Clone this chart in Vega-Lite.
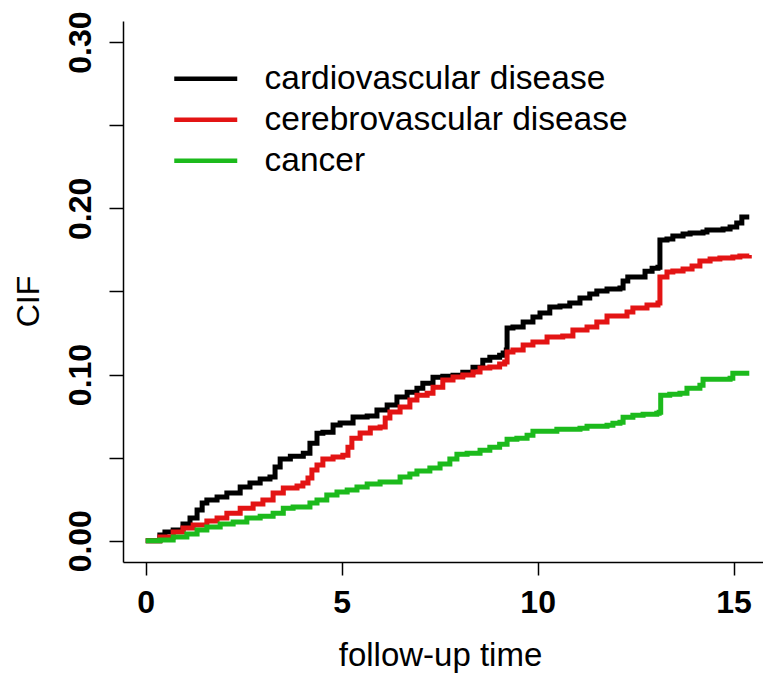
{
  "$schema": "https://vega.github.io/schema/vega-lite/v6.json",
  "autosize": {"type": "none"},
  "width": 640,
  "height": 541,
  "padding": {"left": 123, "top": 21, "right": 0, "bottom": 124},
  "background": "white",
  "config": {"font": "Liberation Sans", "view": {"stroke": null}},
  "datasets": {
    "cif": [
      {"cause": "cardiovascular disease", "t": 0, "cif": 0},
      {"cause": "cardiovascular disease", "t": 0.36, "cif": 0.0034},
      {"cause": "cardiovascular disease", "t": 0.49, "cif": 0.0052},
      {"cause": "cardiovascular disease", "t": 0.70, "cif": 0.0064},
      {"cause": "cardiovascular disease", "t": 0.95, "cif": 0.010},
      {"cause": "cardiovascular disease", "t": 1.13, "cif": 0.0137},
      {"cause": "cardiovascular disease", "t": 1.31, "cif": 0.0185},
      {"cause": "cardiovascular disease", "t": 1.44, "cif": 0.0227},
      {"cause": "cardiovascular disease", "t": 1.56, "cif": 0.0245},
      {"cause": "cardiovascular disease", "t": 1.82, "cif": 0.0263},
      {"cause": "cardiovascular disease", "t": 2.07, "cif": 0.0287},
      {"cause": "cardiovascular disease", "t": 2.41, "cif": 0.0323},
      {"cause": "cardiovascular disease", "t": 2.66, "cif": 0.0347},
      {"cause": "cardiovascular disease", "t": 2.92, "cif": 0.0371},
      {"cause": "cardiovascular disease", "t": 3.17, "cif": 0.0383},
      {"cause": "cardiovascular disease", "t": 3.30, "cif": 0.0443},
      {"cause": "cardiovascular disease", "t": 3.43, "cif": 0.0491},
      {"cause": "cardiovascular disease", "t": 3.69, "cif": 0.0509},
      {"cause": "cardiovascular disease", "t": 4.02, "cif": 0.0527},
      {"cause": "cardiovascular disease", "t": 4.19, "cif": 0.0587},
      {"cause": "cardiovascular disease", "t": 4.37, "cif": 0.0647},
      {"cause": "cardiovascular disease", "t": 4.52, "cif": 0.0653},
      {"cause": "cardiovascular disease", "t": 4.78, "cif": 0.0696},
      {"cause": "cardiovascular disease", "t": 4.96, "cif": 0.0708},
      {"cause": "cardiovascular disease", "t": 5.29, "cif": 0.0744},
      {"cause": "cardiovascular disease", "t": 5.65, "cif": 0.0750},
      {"cause": "cardiovascular disease", "t": 5.90, "cif": 0.0786},
      {"cause": "cardiovascular disease", "t": 6.16, "cif": 0.0816},
      {"cause": "cardiovascular disease", "t": 6.41, "cif": 0.0864},
      {"cause": "cardiovascular disease", "t": 6.67, "cif": 0.0894},
      {"cause": "cardiovascular disease", "t": 6.92, "cif": 0.0918},
      {"cause": "cardiovascular disease", "t": 7.07, "cif": 0.0948},
      {"cause": "cardiovascular disease", "t": 7.33, "cif": 0.0984},
      {"cause": "cardiovascular disease", "t": 7.58, "cif": 0.0990},
      {"cause": "cardiovascular disease", "t": 7.84, "cif": 0.0996},
      {"cause": "cardiovascular disease", "t": 8.09, "cif": 0.1014},
      {"cause": "cardiovascular disease", "t": 8.35, "cif": 0.1044},
      {"cause": "cardiovascular disease", "t": 8.60, "cif": 0.1086},
      {"cause": "cardiovascular disease", "t": 8.78, "cif": 0.1104},
      {"cause": "cardiovascular disease", "t": 9.03, "cif": 0.1116},
      {"cause": "cardiovascular disease", "t": 9.12, "cif": 0.1129},
      {"cause": "cardiovascular disease", "t": 9.20, "cif": 0.1147},
      {"cause": "cardiovascular disease", "t": 9.22, "cif": 0.1280},
      {"cause": "cardiovascular disease", "t": 9.37, "cif": 0.1286},
      {"cause": "cardiovascular disease", "t": 9.63, "cif": 0.1316},
      {"cause": "cardiovascular disease", "t": 9.88, "cif": 0.1346},
      {"cause": "cardiovascular disease", "t": 10.06, "cif": 0.1370},
      {"cause": "cardiovascular disease", "t": 10.31, "cif": 0.1406},
      {"cause": "cardiovascular disease", "t": 10.57, "cif": 0.1412},
      {"cause": "cardiovascular disease", "t": 10.82, "cif": 0.1430},
      {"cause": "cardiovascular disease", "t": 11.08, "cif": 0.1460},
      {"cause": "cardiovascular disease", "t": 11.33, "cif": 0.1484},
      {"cause": "cardiovascular disease", "t": 11.51, "cif": 0.1502},
      {"cause": "cardiovascular disease", "t": 11.77, "cif": 0.1514},
      {"cause": "cardiovascular disease", "t": 12.10, "cif": 0.1520},
      {"cause": "cardiovascular disease", "t": 12.18, "cif": 0.1562},
      {"cause": "cardiovascular disease", "t": 12.30, "cif": 0.1586},
      {"cause": "cardiovascular disease", "t": 12.74, "cif": 0.1622},
      {"cause": "cardiovascular disease", "t": 12.92, "cif": 0.1640},
      {"cause": "cardiovascular disease", "t": 13.07, "cif": 0.1646},
      {"cause": "cardiovascular disease", "t": 13.12, "cif": 0.1809},
      {"cause": "cardiovascular disease", "t": 13.30, "cif": 0.1815},
      {"cause": "cardiovascular disease", "t": 13.45, "cif": 0.1833},
      {"cause": "cardiovascular disease", "t": 13.71, "cif": 0.1845},
      {"cause": "cardiovascular disease", "t": 13.89, "cif": 0.1851},
      {"cause": "cardiovascular disease", "t": 14.22, "cif": 0.1857},
      {"cause": "cardiovascular disease", "t": 14.32, "cif": 0.1869},
      {"cause": "cardiovascular disease", "t": 14.73, "cif": 0.1875},
      {"cause": "cardiovascular disease", "t": 14.91, "cif": 0.1887},
      {"cause": "cardiovascular disease", "t": 15.08, "cif": 0.1911},
      {"cause": "cardiovascular disease", "t": 15.21, "cif": 0.1947},
      {"cause": "cardiovascular disease", "t": 15.40, "cif": 0.1947},

      {"cause": "cerebrovascular disease", "t": 0, "cif": 0},
      {"cause": "cerebrovascular disease", "t": 0.36, "cif": 0.0022},
      {"cause": "cerebrovascular disease", "t": 0.70, "cif": 0.0052},
      {"cause": "cerebrovascular disease", "t": 0.95, "cif": 0.0076},
      {"cause": "cerebrovascular disease", "t": 1.21, "cif": 0.0094},
      {"cause": "cerebrovascular disease", "t": 1.56, "cif": 0.0118},
      {"cause": "cerebrovascular disease", "t": 1.82, "cif": 0.0136},
      {"cause": "cerebrovascular disease", "t": 2.07, "cif": 0.0166},
      {"cause": "cerebrovascular disease", "t": 2.41, "cif": 0.0196},
      {"cause": "cerebrovascular disease", "t": 2.74, "cif": 0.0221},
      {"cause": "cerebrovascular disease", "t": 2.99, "cif": 0.0245},
      {"cause": "cerebrovascular disease", "t": 3.25, "cif": 0.0287},
      {"cause": "cerebrovascular disease", "t": 3.51, "cif": 0.0317},
      {"cause": "cerebrovascular disease", "t": 3.86, "cif": 0.0329},
      {"cause": "cerebrovascular disease", "t": 4.01, "cif": 0.0347},
      {"cause": "cerebrovascular disease", "t": 4.14, "cif": 0.0377},
      {"cause": "cerebrovascular disease", "t": 4.24, "cif": 0.0425},
      {"cause": "cerebrovascular disease", "t": 4.37, "cif": 0.0455},
      {"cause": "cerebrovascular disease", "t": 4.52, "cif": 0.0491},
      {"cause": "cerebrovascular disease", "t": 4.78, "cif": 0.0503},
      {"cause": "cerebrovascular disease", "t": 5.03, "cif": 0.0515},
      {"cause": "cerebrovascular disease", "t": 5.16, "cif": 0.0563},
      {"cause": "cerebrovascular disease", "t": 5.26, "cif": 0.0617},
      {"cause": "cerebrovascular disease", "t": 5.47, "cif": 0.0648},
      {"cause": "cerebrovascular disease", "t": 5.73, "cif": 0.0678},
      {"cause": "cerebrovascular disease", "t": 5.98, "cif": 0.0684},
      {"cause": "cerebrovascular disease", "t": 6.11, "cif": 0.0738},
      {"cause": "cerebrovascular disease", "t": 6.23, "cif": 0.0774},
      {"cause": "cerebrovascular disease", "t": 6.49, "cif": 0.0804},
      {"cause": "cerebrovascular disease", "t": 6.74, "cif": 0.0846},
      {"cause": "cerebrovascular disease", "t": 6.92, "cif": 0.0876},
      {"cause": "cerebrovascular disease", "t": 7.18, "cif": 0.0888},
      {"cause": "cerebrovascular disease", "t": 7.33, "cif": 0.0924},
      {"cause": "cerebrovascular disease", "t": 7.58, "cif": 0.0967},
      {"cause": "cerebrovascular disease", "t": 7.84, "cif": 0.0985},
      {"cause": "cerebrovascular disease", "t": 8.09, "cif": 0.0997},
      {"cause": "cerebrovascular disease", "t": 8.35, "cif": 0.1015},
      {"cause": "cerebrovascular disease", "t": 8.53, "cif": 0.1039},
      {"cause": "cerebrovascular disease", "t": 8.78, "cif": 0.1045},
      {"cause": "cerebrovascular disease", "t": 9.03, "cif": 0.1063},
      {"cause": "cerebrovascular disease", "t": 9.16, "cif": 0.1075},
      {"cause": "cerebrovascular disease", "t": 9.22, "cif": 0.1135},
      {"cause": "cerebrovascular disease", "t": 9.37, "cif": 0.1147},
      {"cause": "cerebrovascular disease", "t": 9.63, "cif": 0.1177},
      {"cause": "cerebrovascular disease", "t": 9.88, "cif": 0.1196},
      {"cause": "cerebrovascular disease", "t": 10.24, "cif": 0.1226},
      {"cause": "cerebrovascular disease", "t": 10.64, "cif": 0.1232},
      {"cause": "cerebrovascular disease", "t": 10.90, "cif": 0.1268},
      {"cause": "cerebrovascular disease", "t": 11.26, "cif": 0.1286},
      {"cause": "cerebrovascular disease", "t": 11.51, "cif": 0.1316},
      {"cause": "cerebrovascular disease", "t": 11.77, "cif": 0.1352},
      {"cause": "cerebrovascular disease", "t": 12.28, "cif": 0.1376},
      {"cause": "cerebrovascular disease", "t": 12.43, "cif": 0.1400},
      {"cause": "cerebrovascular disease", "t": 12.79, "cif": 0.1418},
      {"cause": "cerebrovascular disease", "t": 13.07, "cif": 0.1430},
      {"cause": "cerebrovascular disease", "t": 13.12, "cif": 0.1586},
      {"cause": "cerebrovascular disease", "t": 13.30, "cif": 0.1617},
      {"cause": "cerebrovascular disease", "t": 13.45, "cif": 0.1623},
      {"cause": "cerebrovascular disease", "t": 13.71, "cif": 0.1635},
      {"cause": "cerebrovascular disease", "t": 13.94, "cif": 0.1653},
      {"cause": "cerebrovascular disease", "t": 14.14, "cif": 0.1683},
      {"cause": "cerebrovascular disease", "t": 14.40, "cif": 0.1695},
      {"cause": "cerebrovascular disease", "t": 14.65, "cif": 0.1701},
      {"cause": "cerebrovascular disease", "t": 14.98, "cif": 0.1707},
      {"cause": "cerebrovascular disease", "t": 15.16, "cif": 0.1713},
      {"cause": "cerebrovascular disease", "t": 15.40, "cif": 0.1719},

      {"cause": "cancer", "t": 0, "cif": 0},
      {"cause": "cancer", "t": 0.36, "cif": 0.0004},
      {"cause": "cancer", "t": 0.70, "cif": 0.0022},
      {"cause": "cancer", "t": 1.05, "cif": 0.0040},
      {"cause": "cancer", "t": 1.31, "cif": 0.0064},
      {"cause": "cancer", "t": 1.56, "cif": 0.0082},
      {"cause": "cancer", "t": 1.90, "cif": 0.0100},
      {"cause": "cancer", "t": 2.23, "cif": 0.0112},
      {"cause": "cancer", "t": 2.58, "cif": 0.0136},
      {"cause": "cancer", "t": 2.92, "cif": 0.0148},
      {"cause": "cancer", "t": 3.25, "cif": 0.0166},
      {"cause": "cancer", "t": 3.51, "cif": 0.0196},
      {"cause": "cancer", "t": 3.76, "cif": 0.0203},
      {"cause": "cancer", "t": 4.19, "cif": 0.0227},
      {"cause": "cancer", "t": 4.37, "cif": 0.0245},
      {"cause": "cancer", "t": 4.62, "cif": 0.0275},
      {"cause": "cancer", "t": 4.88, "cif": 0.0293},
      {"cause": "cancer", "t": 5.14, "cif": 0.0305},
      {"cause": "cancer", "t": 5.39, "cif": 0.0323},
      {"cause": "cancer", "t": 5.65, "cif": 0.0341},
      {"cause": "cancer", "t": 5.98, "cif": 0.0353},
      {"cause": "cancer", "t": 6.49, "cif": 0.0383},
      {"cause": "cancer", "t": 6.74, "cif": 0.0401},
      {"cause": "cancer", "t": 6.92, "cif": 0.0419},
      {"cause": "cancer", "t": 7.25, "cif": 0.0437},
      {"cause": "cancer", "t": 7.51, "cif": 0.0461},
      {"cause": "cancer", "t": 7.76, "cif": 0.0491},
      {"cause": "cancer", "t": 7.94, "cif": 0.0521},
      {"cause": "cancer", "t": 8.20, "cif": 0.0527},
      {"cause": "cancer", "t": 8.53, "cif": 0.0545},
      {"cause": "cancer", "t": 8.78, "cif": 0.0563},
      {"cause": "cancer", "t": 9.03, "cif": 0.0581},
      {"cause": "cancer", "t": 9.22, "cif": 0.0611},
      {"cause": "cancer", "t": 9.47, "cif": 0.0617},
      {"cause": "cancer", "t": 9.73, "cif": 0.0635},
      {"cause": "cancer", "t": 9.88, "cif": 0.0659},
      {"cause": "cancer", "t": 10.49, "cif": 0.0671},
      {"cause": "cancer", "t": 11.08, "cif": 0.0677},
      {"cause": "cancer", "t": 11.26, "cif": 0.0689},
      {"cause": "cancer", "t": 11.77, "cif": 0.0695},
      {"cause": "cancer", "t": 11.92, "cif": 0.0707},
      {"cause": "cancer", "t": 12.10, "cif": 0.0713},
      {"cause": "cancer", "t": 12.18, "cif": 0.0743},
      {"cause": "cancer", "t": 12.43, "cif": 0.0755},
      {"cause": "cancer", "t": 12.69, "cif": 0.0761},
      {"cause": "cancer", "t": 13.04, "cif": 0.0767},
      {"cause": "cancer", "t": 13.10, "cif": 0.0773},
      {"cause": "cancer", "t": 13.14, "cif": 0.0875},
      {"cause": "cancer", "t": 13.37, "cif": 0.0881},
      {"cause": "cancer", "t": 13.63, "cif": 0.0887},
      {"cause": "cancer", "t": 13.81, "cif": 0.0917},
      {"cause": "cancer", "t": 14.14, "cif": 0.0935},
      {"cause": "cancer", "t": 14.22, "cif": 0.0971},
      {"cause": "cancer", "t": 14.91, "cif": 0.0977},
      {"cause": "cancer", "t": 14.98, "cif": 0.1008},
      {"cause": "cancer", "t": 15.40, "cif": 0.1008}
    ]
  },
  "data": {"name": "cif"},
  "mark": {"type": "line", "interpolate": "step-after", "strokeWidth": 5, "strokeJoin": "miter", "strokeCap": "butt"},
  "encoding": {
    "x": {
      "field": "t", "type": "quantitative",
      "scale": {"domain": [-0.58, 15.75], "nice": false, "zero": false},
      "axis": {
        "values": [0, 5, 10, 15],
        "title": "follow-up time",
        "grid": false,
        "domainColor": "black", "domainWidth": 1.5,
        "tickColor": "black", "tickWidth": 1.5, "tickSize": 13,
        "labelFont": "Liberation Sans", "labelFontSize": 32, "labelFontWeight": "bold", "labelColor": "black",
        "labelBaseline": "alphabetic", "labelPadding": 37, "labelFlush": false, "labelOverlap": false,
        "titleFont": "Liberation Sans", "titleFontSize": 33, "titleFontWeight": "normal", "titleColor": "black",
        "titleBaseline": "alphabetic", "titleX": 317, "titleY": 103, "titleAlign": "center"
      }
    },
    "y": {
      "field": "cif", "type": "quantitative",
      "scale": {"domain": [-0.0128, 0.3127], "nice": false, "zero": false},
      "axis": {
        "values": [0, 0.05, 0.1, 0.15, 0.2, 0.25, 0.3],
        "format": ".2f",
        "labelExpr": "(datum.label == '0.05' || datum.label == '0.15' || datum.label == '0.25') ? '' : datum.label",
        "title": "CIF",
        "grid": false,
        "domainColor": "black", "domainWidth": 1.5,
        "tickColor": "black", "tickWidth": 1.5, "tickSize": 14,
        "labelFont": "Liberation Sans", "labelFontSize": 32, "labelFontWeight": "bold", "labelColor": "black",
        "labelAngle": 270, "labelAlign": "center", "labelBaseline": "alphabetic", "labelPadding": 19,
        "labelFlush": false, "labelOverlap": false,
        "titleFont": "Liberation Sans", "titleFontSize": 32, "titleFontWeight": "normal", "titleColor": "black",
        "titleAngle": 270, "titleBaseline": "middle", "titleAlign": "center", "titleX": -95, "titleY": 280
      }
    },
    "color": {
      "field": "cause", "type": "nominal",
      "scale": {
        "domain": ["cardiovascular disease", "cerebrovascular disease", "cancer"],
        "range": ["#000000", "#e31414", "#1cba1c"]
      },
      "legend": {
        "title": null,
        "orient": "none",
        "legendX": 66,
        "legendY": 41,
        "padding": 0,
        "symbolType": "M-3,0H3",
        "symbolSize": 441,
        "symbolStrokeWidth": 4.5,
        "labelFont": "Liberation Sans",
        "labelFontSize": 33.5,
        "labelColor": "black",
        "labelOffset": 42,
        "labelLimit": 600,
        "rowPadding": 6
      }
    }
  }
}
